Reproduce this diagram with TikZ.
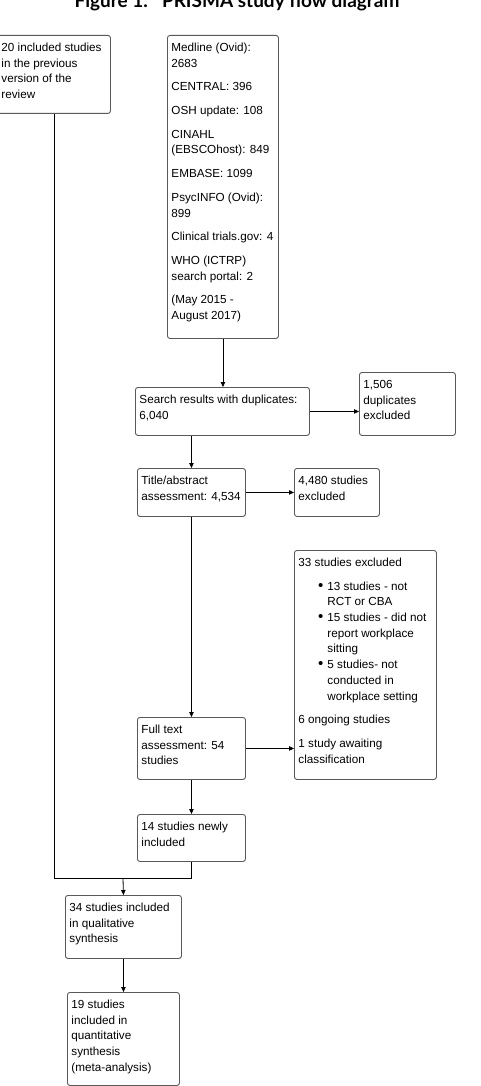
\documentclass[tikz,border=0pt]{standalone}
\usepackage{fontspec}
\setmainfont{Liberation Sans}
\newfontfamily\titlefont{Lato}
\usetikzlibrary{arrows.meta}
\usepackage{tikz}

% box text: width, height, text (top aligned, ragged right)
\newcommand{\flowtxt}[3]{\parbox[t][#2][t]{#1}{\raggedright\parskip=8pt\strut #3}}
\newcommand{\excitem}[1]{\par\hangindent=29pt\hangafter=0\noindent\llap{{\fontsize{15}{15}\selectfont\textbullet}\hspace{4pt}}#1\par}

\begin{document}
\begin{tikzpicture}[x=1pt,y=-1pt]

    \useasboundingbox (0,0) rectangle (480,1086);
    \node[anchor=base] (ttl) at (237,8) {\titlefont\bfseries\fontsize{19}{21}\selectfont Figure 1.\hspace{14pt}PRISMA study flow diagram};

        % Boxes, placed by their top left corner
        \begin{scope}[every node/.style={draw=black!65,line width=0.9pt,rounded corners=2.5pt,
                      anchor=north west,inner xsep=4pt,inner ysep=5pt,
                      font=\fontsize{11.7}{15.7}\selectfont}]
        \node (prev) at (-3,35) {\flowtxt{105pt}{68pt}{20 included studies\\in the previous\\version of the\\review}};
        \node (db) at (167,35) {\flowtxt{103pt}{293pt}{Medline (Ovid):\\2683\par
            CENTRAL: 396\par OSH update: 108\par CINAHL\\(EBSCOhost): 849\par
            EMBASE: 1099\par PsycINFO (Ovid):\\899\par Clinical trials.gov: 4\par
            WHO (ICTRP)\\search portal: 2\par (May 2015 -\\August 2017)}};
        \node (srch) at (135,387) {\flowtxt{166pt}{38pt}{Search results with duplicates:\\6,040}};
        \node (dup) at (359,372) {\flowtxt{88pt}{53pt}{1,506\\duplicates\\excluded}};
        \node (tiab) at (137,468) {\flowtxt{100pt}{38pt}{Title/abstract\\assessment: 4,534}};
        \node (excA) at (294,468) {\flowtxt{77pt}{38pt}{4,480 studies\\excluded}};
        \node (excB) at (294,550) {\flowtxt{134pt}{219pt}{33 studies excluded\par
            \excitem{13 studies - not\newline RCT or CBA}\parskip=0pt
            \excitem{15 studies - did not\newline report workplace\newline sitting}
            \excitem{5 studies- not\newline conducted in\newline workplace setting}\parskip=8pt
            6 ongoing studies\par 1 study awaiting\\classification}};
        \node (full) at (137,717) {\flowtxt{100pt}{52pt}{Full text\\assessment: 54\\studies}};
        \node (newly) at (137,814) {\flowtxt{100pt}{37pt}{14 studies newly\\included}};
        \node (qual) at (65,895) {\flowtxt{108pt}{53pt}{34 studies included\\in qualitative\\synthesis}};
        \node (quant) at (67,992) {\flowtxt{104pt}{83pt}{19 studies\\included in\\quantitative\\synthesis\\(meta-analysis)}};
        \end{scope}

        \coordinate (merge) at (123,878);

        % Connectors
        \begin{scope}[>={Triangle[length=5pt,width=4.5pt]},
                  every edge/.style={draw=black, line width=0.8pt}]
        \path [->] (db.south) edge (db.south |- srch.north);
        \path [->] (srch.east) edge (srch.east -| dup.west);
        \path [->] (tiab.north |- srch.south) edge (tiab.north);
        \path [->] (tiab.east) edge (excA.west);
        \path [->] (tiab.south) edge (full.north);
        \path [->] (full.east) edge (full.east -| excB.west);
        \path [->] (full.south) edge (newly.north);
        \draw [line width=0.8pt] (prev.south) |- (merge) -| (newly.south);
        \path [->] (merge) edge (qual.north);
        \path [->] (qual.south) edge (quant.north);
        \end{scope}

\end{tikzpicture}
\end{document}
